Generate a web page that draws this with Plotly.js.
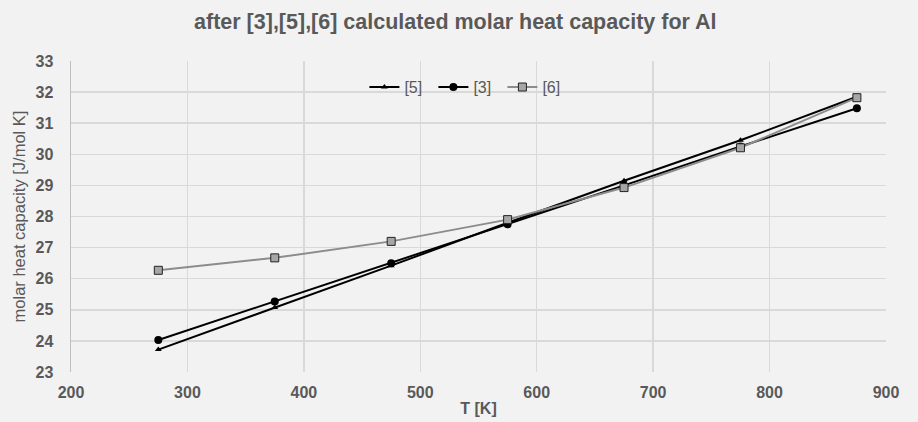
<!DOCTYPE html>
<html><head><meta charset="utf-8">
<script src="https://cdn.plot.ly/plotly-3.0.1.min.js"></script>
<style>html,body{margin:0;padding:0;background:#f2f2f2;}#c{width:918px;height:422px;}</style>
</head><body><div id="c"></div>
<script>
var temps = [275, 375, 475, 575, 675, 775, 875];
var cp5 = [23.72, 25.07, 26.42, 27.8, 29.15, 30.45, 31.85];
var cp3 = [24.03, 25.27, 26.5, 27.75, 29.0, 30.25, 31.48];
var cp6 = [26.27, 26.67, 27.2, 27.9, 28.93, 30.21, 31.82];
var names = ['[5]', '[3]', '[6]'];

var fam = 'Liberation Sans, Arial, sans-serif';
var grey = '#595959';
var traces = [
  {x: temps, y: cp5, name: names[0], mode: 'lines+markers', line: {color: '#000', width: 2},
   marker: {symbol: 'triangle-up', size: 6, color: '#000'}},
  {x: temps, y: cp3, name: names[1], mode: 'lines+markers', line: {color: '#000', width: 2},
   marker: {symbol: 'circle', size: 8, color: '#000'}},
  {x: temps, y: cp6, name: names[2], mode: 'lines+markers', line: {color: '#8c8c8c', width: 2},
   marker: {symbol: 'square', size: 8, color: '#a6a6a6', line: {color: '#222', width: 1}}}
];
var layout = {
  width: 918, height: 422,
  paper_bgcolor: '#f2f2f2', plot_bgcolor: '#f2f2f2',
  margin: {l: 71, r: 32, t: 61, b: 50},
  font: {family: fam, color: grey},
  title: {text: '<b>after [3],[5],[6] calculated molar heat capacity for Al</b>',
          font: {family: fam, color: grey, size: 21.5}, x: 0.496, xanchor: 'center', y: 0.95, yanchor: 'middle'},
  xaxis: {range: [200, 900], dtick: 100, tick0: 200, showgrid: true, gridcolor: '#d9d9d9', gridwidth: 1.5,
          zeroline: false, showline: false, ticks: '', ticklabelstandoff: 9,
          tickfont: {family: fam, color: grey, size: 16, weight: 'bold'},
          title: {text: '<b>T [K]</b>', standoff: 2, font: {family: fam, color: grey, size: 16}}},
  yaxis: {range: [23, 33], dtick: 1, showgrid: true, gridcolor: '#d9d9d9', gridwidth: 1.5,
          zeroline: false, showline: true, linecolor: '#bfbfbf', linewidth: 1.5, ticks: '', ticklabelstandoff: 13,
          tickfont: {family: fam, color: grey, size: 16, weight: 'bold'},
          title: {text: 'molar heat capacity [J/mol K]', standoff: 5, font: {family: fam, color: grey, size: 16.5}}},
  showlegend: true,
  legend: {orientation: 'h', x: 0.36, y: 0.916, xanchor: 'left', yanchor: 'middle',
           bgcolor: 'rgba(0,0,0,0)', font: {family: fam, color: grey, size: 16},
           entrywidth: 24, entrywidthmode: 'pixels', itemwidth: 30, tracegroupgap: 0}
};
Plotly.newPlot('c', traces, layout, {displayModeBar: false, staticPlot: true});
</script></body></html>
